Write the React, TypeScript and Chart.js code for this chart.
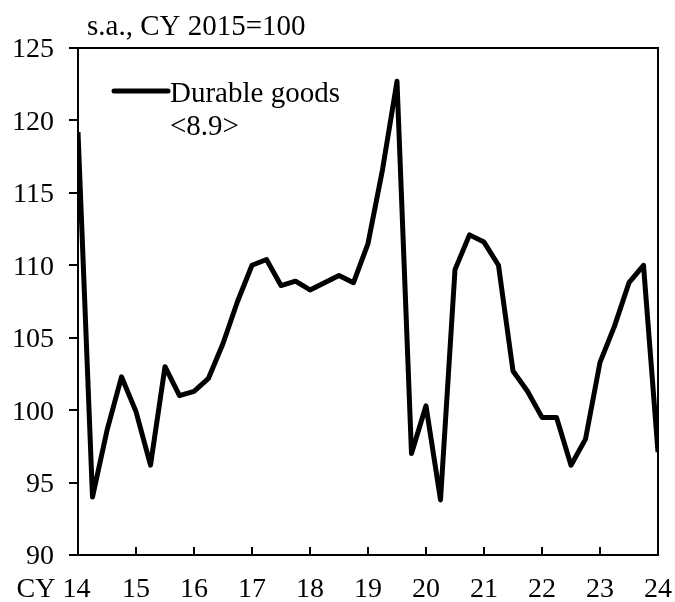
import React, { useEffect, useRef } from "react";
import { Chart, registerables } from "chart.js";

Chart.register(...registerables);

const quarters: number[] = Array.from({ length: 41 }, (_, i) => i);
const durableGoods: number[] = [
  119.2, 94.0, 98.6, 102.3, 99.9, 96.2, 103.0, 101.0,
  101.3, 102.2, 104.6, 107.5, 110.0, 110.4, 108.6, 108.9,
  108.3, 108.8, 109.3, 108.8, 111.5, 116.6, 122.7, 97.0,
  100.3, 93.8, 109.7, 112.1, 111.6, 110.0, 102.7, 101.3,
  99.5, 99.5, 96.2, 98.0, 103.3, 105.8, 108.8, 110.0, 97.1,
];
const yearLabels: string[] = ["14", "15", "16", "17", "18", "19", "20", "21", "22", "23", "24"];
const titleText = "s.a., CY 2015=100";
const seriesName = "Durable goods";
const seriesWeight = "<8.9>";
const yMin = 90;
const yMax = 125;
const yStep = 5;

const FONT = "Liberation Serif, 'Times New Roman', serif";
const FS = 28;
const FS_TEXT = 29;

const framePlugin = {
  id: "framePlugin",
  afterDraw(chart: any) {
    const { ctx, chartArea } = chart;
    const { left, right, top, bottom } = chartArea;
    ctx.save();
    ctx.strokeStyle = "#000";
    ctx.lineWidth = 2;
    ctx.beginPath();
    ctx.moveTo(left, top);
    ctx.lineTo(right, top);
    ctx.lineTo(right, bottom);
    ctx.stroke();
    // title
    ctx.fillStyle = "#000";
    ctx.font = `${FS_TEXT}px ${FONT}`;
    ctx.textAlign = "left";
    ctx.textBaseline = "alphabetic";
    ctx.fillText(titleText, 87, 35);
    // legend
    ctx.lineWidth = 5;
    ctx.lineCap = "round";
    ctx.beginPath();
    ctx.moveTo(left + 36, 91);
    ctx.lineTo(left + 90, 91);
    ctx.stroke();
    ctx.fillText(seriesName, left + 92, 102);
    ctx.fillText(seriesWeight, left + 92, 135);
    ctx.restore();
  },
};

export default function App() {
  const ref = useRef<HTMLCanvasElement | null>(null);
  useEffect(() => {
    document.body.style.margin = "0";
    if (!ref.current) return;
    const chart = new Chart(ref.current, {
      type: "line",
      data: {
        datasets: [
          {
            label: seriesName,
            data: quarters.map((q, i) => ({ x: q, y: durableGoods[i] })),
            borderColor: "#000",
            backgroundColor: "#000",
            borderWidth: 5,
            pointRadius: 0,
            tension: 0,
            borderJoinStyle: "round",
            borderCapStyle: "butt",
          },
        ],
      },
      options: {
        responsive: false,
        animation: false,
        layout: { padding: { top: 48, right: 17, left: 0, bottom: 0 } },
        plugins: {
          legend: { display: false },
          tooltip: { enabled: false },
          title: { display: false },
        },
        scales: {
          x: {
            type: "linear",
            min: 0,
            max: 40,
            afterFit: (s: any) => {
              s.height = 47;
              s.paddingLeft = 0;
              s.paddingRight = 0;
            },
            afterBuildTicks: (s: any) => {
              s.ticks = yearLabels.map((_, i) => ({ value: i * 4 }));
            },
            ticks: {
              autoSkip: false,
              maxRotation: 0,
              minRotation: 0,
              padding: 26,
              color: "#000",
              font: { family: FONT, size: FS },
              callback: (v: any) => {
                const i = Math.round(Number(v) / 4);
                return i === 0 ? "CY " + yearLabels[i] + "       " : yearLabels[i];
              },
            },
            grid: {
              display: true,
              drawOnChartArea: false,
              tickLength: -8,
              color: "#000",
              lineWidth: 2,
            },
            border: { display: true, color: "#000", width: 2 },
          },
          y: {
            min: yMin,
            max: yMax,
            afterFit: (s: any) => {
              s.width = 78;
            },
            ticks: {
              stepSize: yStep,
              padding: 15,
              labelOffset: 2,
              color: "#000",
              font: { family: FONT, size: FS },
            },
            grid: {
              display: true,
              drawOnChartArea: false,
              tickLength: 9,
              color: "#000",
              lineWidth: 2,
            },
            border: { display: true, color: "#000", width: 2 },
          },
        },
      },
      plugins: [framePlugin],
    });
    return () => chart.destroy();
  }, []);
  return <canvas ref={ref} width={675} height={602} style={{ display: "block" }} />;
}
